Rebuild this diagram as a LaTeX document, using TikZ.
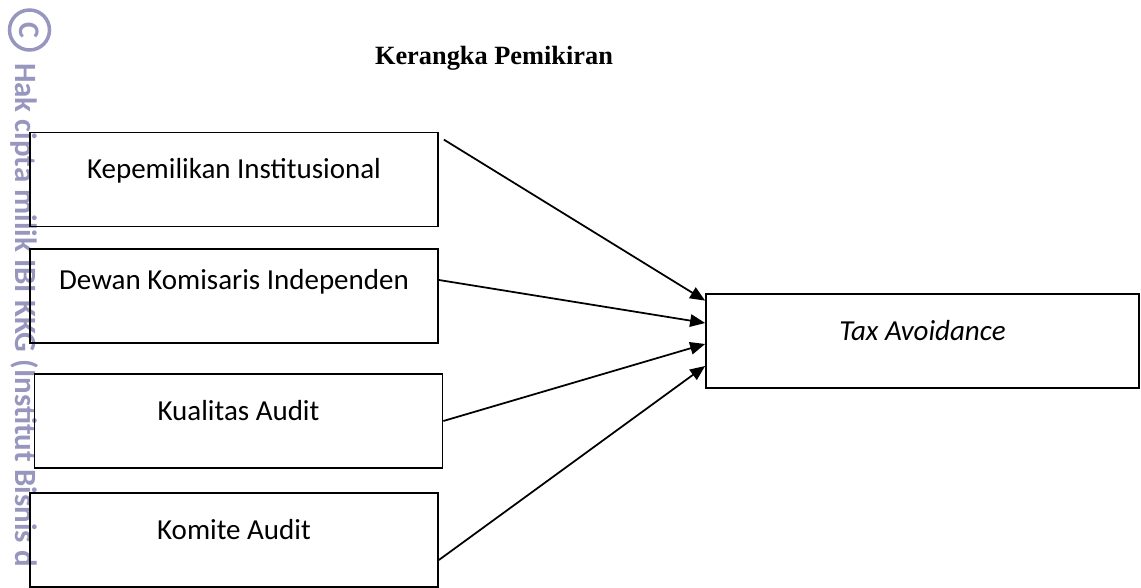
\documentclass[tikz,border=0pt]{standalone}
\usepackage{fontspec}
\setmainfont{Carlito}
\newfontfamily\titlefont{Liberation Serif}
\usetikzlibrary{positioning,arrows.meta}
\definecolor{wmark}{RGB}{150,150,190}
\tikzstyle{box} = [ rectangle, minimum width = 8.16cm, minimum height = 1.88cm, %
                    text height = 0.35cm, text depth = 0.38cm, draw = black, %
                    line width = 1pt, font = \fontsize{16.5}{18}\selectfont ]
\tikzstyle{arrow} = [line width = 1pt, -{Triangle[length=0.3cm,width=0.25cm]}]
\begin{document}
\begin{tikzpicture}[node distance = 2.4cm]
      \useasboundingbox (0,0) rectangle (22.82,-11.76);
      % Watermark
      \node (copyright) [circle, draw = wmark, line width = 2pt, minimum size = 0.8cm, %
                         inner sep = 0pt, rotate = -90, text = wmark, %
                         font = \bfseries\fontsize{17}{18}\selectfont] at (0.59,-0.6) {C};
      \node (hakcipta) [rotate = -90, anchor = west, text = wmark, %
                        font = \bfseries\fontsize{17.6}{20}\selectfont] at (0.5,-1.14) %
                        {Hak cipta milik IBI KKG (Institut Bisnis d};
      % Title
      \node (title) at (9.88,-1.16) {\titlefont\bfseries\fontsize{15}{18}\selectfont Kerangka Pemikiran};
      % Boxes
      \node (kepemilikan) [box] at (4.68,-3.59) {Kepemilikan Institusional};
      \node (dewan) [box,below of=kepemilikan,yshift=0.07cm,text depth=0.6cm] {Dewan Komisaris Independen};
      \node (kualitas) [box,below of=dewan,xshift=0.09cm,yshift=-0.1cm] {Kualitas Audit};
      \node (komite) [box,below of=kualitas,xshift=-0.09cm,yshift=0.02cm] {Komite Audit};
      \node (tax) [box,minimum width=8.66cm] at (18.45,-6.82) {\itshape Tax Avoidance};
      % Arrows
      \draw [arrow] ([xshift=0.1cm,yshift=-0.16cm]kepemilikan.north east) -- %
        ([yshift=-0.15cm]tax.north west);
      \draw [arrow] ([yshift=0.32cm]dewan.east) -- ([yshift=0.36cm]tax.west);
      \draw [arrow] (kualitas.east) -- ([yshift=-0.06cm]tax.west);
      \draw [arrow] ([yshift=-0.4cm]komite.east) -- ([yshift=-0.5cm]tax.west);
\end{tikzpicture}
\end{document}
